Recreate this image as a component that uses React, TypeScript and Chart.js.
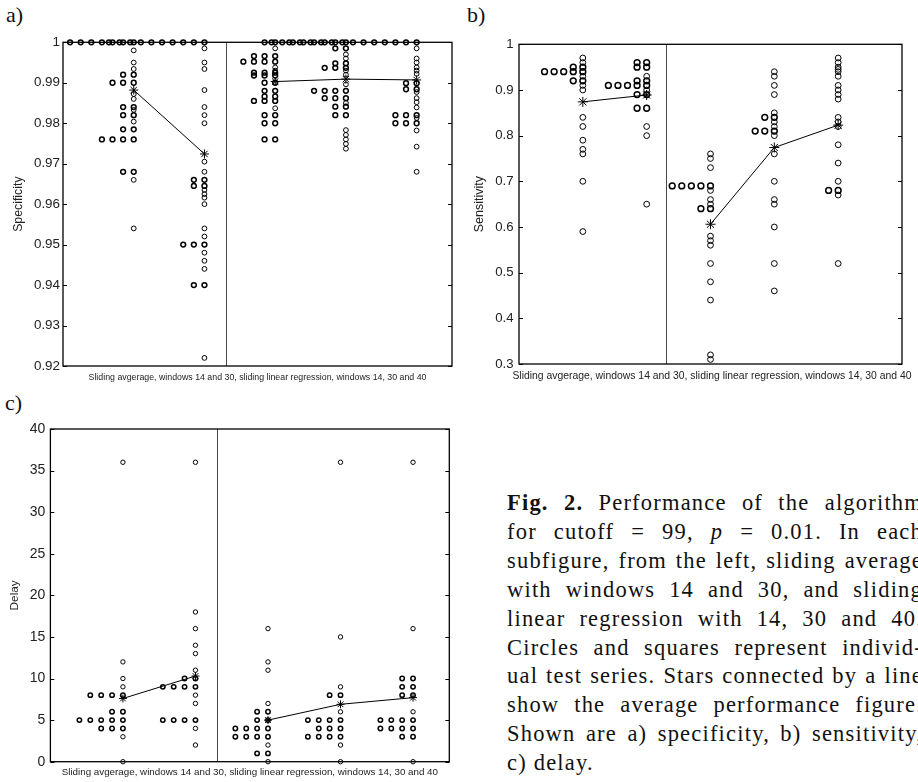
import React, { useEffect, useRef } from 'react';
import { Chart, registerables } from 'chart.js';

Chart.register(...registerables);

// ---------- categories ----------
const methods = [
  'Sliding average, window 14',
  'Sliding average, window 30',
  'Sliding linear regression, window 14',
  'Sliding linear regression, window 30',
  'Sliding linear regression, window 40',
];
const methodX = [1, 2, 3, 4, 5];
const dividerX = 2.3;
const repeatStep = 0.15;
const xCaption = 'Sliding avgerage, windows 14 and 30, sliding linear regression, windows 14, 30 and 40';

// ---------- a) specificity ----------
const specSA14 = [1, 1, 1, 1, 1, 1, 1, 0.998, 0.995, 0.9934, 0.992, 0.992, 0.99, 0.99, 0.99, 0.9872, 0.986, 0.984, 0.984, 0.9833, 0.982, 0.982, 0.9804, 0.9785, 0.9785, 0.976, 0.976, 0.976, 0.976, 0.968, 0.968, 0.966, 0.954];
const specSA30 = [1, 1, 1, 1, 1, 1, 1, 1, 1, 1, 0.9985, 0.995, 0.9934, 0.9882, 0.984, 0.982, 0.98, 0.9705, 0.968, 0.966, 0.966, 0.9645, 0.9645, 0.9635, 0.9625, 0.9616, 0.96, 0.954, 0.952, 0.95, 0.95, 0.95, 0.948, 0.946, 0.944, 0.94, 0.94, 0.922];
const specLR14 = [1, 1, 0.9985, 0.9966, 0.9966, 0.9966, 0.9952, 0.9952, 0.9952, 0.9952, 0.9938, 0.993, 0.9925, 0.9925, 0.9925, 0.9918, 0.9918, 0.9918, 0.99, 0.99, 0.988, 0.988, 0.9866, 0.9866, 0.9855, 0.9855, 0.9855, 0.9837, 0.982, 0.982, 0.98, 0.98, 0.976, 0.976];
const specLR30 = [1, 1, 1, 1, 1, 1, 1, 1, 0.9985, 0.9985, 0.997, 0.996, 0.9948, 0.9948, 0.9937, 0.9937, 0.9937, 0.993, 0.992, 0.9896, 0.988, 0.988, 0.988, 0.988, 0.9862, 0.9862, 0.9862, 0.985, 0.9841, 0.9841, 0.982, 0.982, 0.9783, 0.9771, 0.976, 0.9749, 0.9737];
const specLR40 = [1, 1, 1, 1, 1, 1, 1, 1, 1, 1, 1, 1, 1, 0.9985, 0.996, 0.995, 0.9938, 0.993, 0.9922, 0.9899, 0.9899, 0.9884, 0.9884, 0.9877, 0.9862, 0.9852, 0.9839, 0.982, 0.982, 0.982, 0.9813, 0.98, 0.98, 0.98, 0.9782, 0.9742, 0.968];
const specMeans = [0.9882, 0.9724, 0.9903, 0.9909, 0.9907];
const specTicks = [0.92, 0.93, 0.94, 0.95, 0.96, 0.97, 0.98, 0.99, 1];

// ---------- b) sensitivity ----------
const sensSA14 = [0.97, 0.96, 0.95, 0.95, 0.94, 0.94, 0.94, 0.94, 0.94, 0.93, 0.92, 0.92, 0.91, 0.9, 0.84, 0.82, 0.79, 0.77, 0.76, 0.7, 0.59];
const sensSA30 = [0.96, 0.96, 0.95, 0.95, 0.93, 0.92, 0.92, 0.91, 0.91, 0.91, 0.91, 0.91, 0.9, 0.89, 0.89, 0.86, 0.86, 0.82, 0.8, 0.65];
const sensLR14 = [0.76, 0.75, 0.73, 0.69, 0.69, 0.69, 0.69, 0.69, 0.68, 0.66, 0.65, 0.64, 0.64, 0.58, 0.57, 0.56, 0.52, 0.48, 0.44, 0.32, 0.31];
const sensLR30 = [0.94, 0.93, 0.91, 0.89, 0.85, 0.84, 0.84, 0.83, 0.82, 0.81, 0.81, 0.81, 0.8, 0.76, 0.7, 0.66, 0.65, 0.6, 0.52, 0.46];
const sensLR40 = [0.97, 0.96, 0.95, 0.945, 0.94, 0.93, 0.91, 0.9, 0.89, 0.88, 0.84, 0.83, 0.82, 0.78, 0.74, 0.7, 0.68, 0.68, 0.67, 0.52];
const sensMeans = [0.874, 0.889, 0.606, 0.774, 0.823];
const sensTicks = [0.3, 0.4, 0.5, 0.6, 0.7, 0.8, 0.9, 1];

// ---------- c) delay ----------
const delaySA14 = [36, 12, 10, 9, 8, 8, 8, 8, 6, 6, 5, 5, 5, 5, 5, 4, 4, 4, 3, 0];
const delaySA30 = [36, 18, 16, 14, 13, 11, 10, 10, 9, 9, 9, 9, 8, 7, 5, 5, 5, 5, 4, 2];
const delayLR14 = [16, 12, 11, 7, 6, 6, 5, 5, 4, 4, 4, 4, 3, 3, 3, 3, 2, 1, 1, 0];
const delayLR30 = [36, 15, 9, 8, 8, 6, 5, 5, 5, 5, 4, 4, 4, 3, 3, 3, 3, 2, 0];
const delayLR40 = [36, 16, 10, 10, 9, 9, 8, 8, 6, 5, 5, 5, 5, 4, 4, 4, 4, 3, 3, 0];
const delayMeans = [7.6, 10.3, 5.0, 6.9, 7.7];
const delayTicks = [0, 5, 10, 15, 20, 25, 30, 35, 40];

// ---------- helpers ----------
function buildPoints(series: number[][]) {
  const pts: any[] = [];
  series.forEach((vals, i) => {
    const counts = new Map<number, number>();
    vals.forEach((v) => counts.set(v, (counts.get(v) || 0) + 1));
    const seen = new Map<number, number>();
    vals.forEach((v) => {
      const j = seen.get(v) || 0;
      seen.set(v, j + 1);
      pts.push({ x: methodX[i] - repeatStep * j, y: v, rep: (counts.get(v) || 0) > 1 });
    });
  });
  return pts;
}

function meanPoints(means: number[], from: number, to: number) {
  const out: any[] = [];
  for (let i = from; i < to; i++) out.push({ x: methodX[i], y: means[i] });
  return out;
}

const framePlugin = {
  id: 'frame',
  beforeDatasetsDraw(chart: any, _args: any, opts: any) {
    const { ctx, chartArea: a, scales } = chart;
    const xs = scales.x;
    const ys = scales.y;
    ctx.save();
    // divider
    const dx = Math.round(xs.getPixelForValue(opts.divider)) + 0.5;
    ctx.strokeStyle = '#4a4a4a';
    ctx.lineWidth = 1;
    ctx.beginPath();
    ctx.moveTo(dx, a.top);
    ctx.lineTo(dx, a.bottom);
    ctx.stroke();
    // inward ticks
    ctx.strokeStyle = '#000';
    ctx.lineWidth = 1;
    ys.ticks.forEach((t: any) => {
      const py = Math.round(ys.getPixelForValue(t.value)) + 0.5;
      ctx.beginPath();
      ctx.moveTo(a.left, py);
      ctx.lineTo(a.left + opts.tickLen, py);
      ctx.moveTo(a.right, py);
      ctx.lineTo(a.right - opts.tickLen, py);
      ctx.stroke();
    });
    // box
    ctx.lineWidth = 1.3;
    ctx.strokeStyle = '#000';
    ctx.strokeRect(a.left, a.top, a.right - a.left, a.bottom - a.top);
    // x caption
    ctx.fillStyle = '#222';
    ctx.font = `${opts.captionSize}px "Liberation Sans", Arial, sans-serif`;
    ctx.textAlign = 'center';
    ctx.textBaseline = 'middle';
    ctx.fillText(opts.caption, (a.left + a.right) / 2 + opts.captionDx, a.bottom + opts.captionOffset);
    ctx.restore();
  },
};

const panelA = {
  canvas: { left: 0, top: 28, width: 470, height: 362 },
  area: { left: 63, top: 42.3, right: 452, bottom: 366 },
  xMax: 5.5,
  yTicks: specTicks,
  yTitle: 'Specificity',
  series: [specSA14, specSA30, specLR14, specLR30, specLR40],
  means: specMeans,
  tickSize: 13.4,
  tickPad: 3,
  titleSize: 12.3,
  titleX: 18.3,
  captionSize: 8.8,
  captionOffset: 11.5,
  captionDx: 0,
  circleR: 2.4,
  starR: 4.5,
};

const panelB = {
  canvas: { left: 460, top: 28, width: 458, height: 362 },
  area: { left: 519, top: 44.3, right: 902, bottom: 364 },
  xMax: 6,
  yTicks: sensTicks,
  yTitle: 'Sensitivity',
  series: [sensSA14, sensSA30, sensLR14, sensLR30, sensLR40],
  means: sensMeans,
  tickSize: 13.2,
  tickPad: 5.5,
  titleSize: 12.5,
  titleX: 19.3,
  captionSize: 10.4,
  captionOffset: 11.7,
  captionDx: 1.5,
  circleR: 2.9,
  starR: 5,
};

const panelC = {
  canvas: { left: 0, top: 400, width: 470, height: 382 },
  area: { left: 50.4, top: 429, right: 449.3, bottom: 761.7 },
  xMax: 5.5,
  yTicks: delayTicks,
  yTitle: 'Delay',
  series: [delaySA14, delaySA30, delayLR14, delayLR30, delayLR40],
  means: delayMeans,
  tickSize: 14,
  tickPad: 5,
  titleSize: 11.8,
  titleX: 15,
  captionSize: 9.8,
  captionOffset: 11,
  captionDx: 0,
  circleR: 2.2,
  starR: 4,
};

function ChartPanel({ cfg }: { cfg: any }) {
  const ref = useRef<HTMLCanvasElement>(null);
  useEffect(() => {
    const c = cfg.canvas;
    const a = cfg.area;
    const yTitleLH = cfg.titleSize * 1.2;
    const chart = new Chart(ref.current as HTMLCanvasElement, {
      type: 'scatter',
      data: {
        datasets: [
          {
            label: 'mean sliding average',
            data: meanPoints(cfg.means, 0, 2),
            showLine: true,
            borderColor: '#000',
            borderWidth: 1,
            pointStyle: 'star',
            pointRadius: cfg.starR,
            pointBorderColor: '#000',
            pointBorderWidth: 1,
            pointBackgroundColor: '#000',
            clip: false,
          } as any,
          {
            label: 'mean sliding linear regression',
            data: meanPoints(cfg.means, 2, 5),
            showLine: true,
            borderColor: '#000',
            borderWidth: 1,
            pointStyle: 'star',
            pointRadius: cfg.starR,
            pointBorderColor: '#000',
            pointBorderWidth: 1,
            pointBackgroundColor: '#000',
            clip: false,
          } as any,
          {
            label: 'test series',
            data: buildPoints(cfg.series),
            pointStyle: 'circle',
            pointRadius: cfg.circleR,
            pointBackgroundColor: 'rgba(0,0,0,0)',
            pointBorderColor: '#000',
            pointBorderWidth: (ctx: any) => (ctx.raw && ctx.raw.rep ? 1.5 : 1),
            clip: false,
          } as any,
        ],
      },
      options: {
        animation: false,
        responsive: false,
        devicePixelRatio: 1,
        events: [],
        layout: {
          padding: {
            left: 0,
            top: a.top - c.top,
            right: c.left + c.width - a.right,
            bottom: c.top + c.height - a.bottom,
          },
        },
        plugins: {
          legend: { display: false },
          tooltip: { enabled: false },
          frame: {
            divider: dividerX,
            tickLen: 4,
            caption: xCaption,
            captionSize: cfg.captionSize,
            captionOffset: cfg.captionOffset,
            captionDx: cfg.captionDx,
          },
        } as any,
        scales: {
          x: { type: 'linear', display: false, min: 0, max: cfg.xMax },
          y: {
            type: 'linear',
            min: cfg.yTicks[0],
            max: cfg.yTicks[cfg.yTicks.length - 1],
            afterBuildTicks: (s: any) => {
              s.ticks = cfg.yTicks.map((v: number) => ({ value: v }));
            },
            afterFit: (s: any) => {
              s.width = a.left - c.left;
            },
            ticks: {
              autoSkip: false,
              padding: cfg.tickPad,
              color: '#222',
              font: { family: '"Liberation Sans", Arial, sans-serif', size: cfg.tickSize },
              callback: (v: any) => String(v),
            },
            grid: { display: false, drawTicks: false },
            border: { display: false },
            title: {
              display: true,
              text: cfg.yTitle,
              color: '#222',
              font: { family: '"Liberation Sans", Arial, sans-serif', size: cfg.titleSize, lineHeight: 1.2 },
              padding: { top: cfg.titleX - yTitleLH / 2, bottom: 0 },
            },
          },
        },
      } as any,
      plugins: [framePlugin as any],
    });
    return () => chart.destroy();
  }, [cfg]);
  return (
    <canvas
      ref={ref}
      width={cfg.canvas.width}
      height={cfg.canvas.height}
      style={{ position: 'absolute', left: cfg.canvas.left, top: cfg.canvas.top, width: cfg.canvas.width, height: cfg.canvas.height }}
      aria-label={methods.join('; ')}
    />
  );
}

const serif = '"Liberation Serif", "Times New Roman", serif';

function PanelLabel({ text, left, top }: { text: string; left: number; top: number }) {
  return (
    <div style={{ position: 'absolute', left, top, fontFamily: serif, fontSize: 22, lineHeight: '22px', color: '#111' }}>{text}</div>
  );
}

const captionLines: React.ReactNode[] = [
  <><b>Fig. 2.</b> Performance of the algorithm</>,
  <>for cutoff = 99, <i>p</i> = 0.01. In each</>,
  <>subfigure, from the left, sliding average</>,
  <>with windows 14 and 30, and sliding</>,
  <>linear regression with 14, 30 and 40.</>,
  <>Circles and squares represent individ-</>,
  <>ual test series. Stars connected by a line</>,
  <>show the average performance figure.</>,
  <>Shown are a) specificity, b) sensitivity,</>,
  <>c) delay.</>,
];

function Caption() {
  return (
    <div
      style={{
        position: 'absolute',
        left: 507,
        top: 489,
        width: 416,
        fontFamily: serif,
        fontSize: 22.5,
        lineHeight: '28.9px',
        letterSpacing: 1.2,
        color: '#111',
      }}
    >
      {captionLines.map((l, i) => {
        const last = i === captionLines.length - 1;
        return (
          <div key={i} style={{ textAlign: last ? 'left' : 'justify', textAlignLast: last ? 'left' : 'justify', whiteSpace: 'nowrap' } as any}>
            {l}
          </div>
        );
      })}
    </div>
  );
}

export default function App() {
  return (
    <div style={{ position: 'fixed', left: 0, top: 0, width: 918, height: 782, overflow: 'hidden', background: '#fff' }}>
      <PanelLabel text="a)" left={6} top={4} />
      <PanelLabel text="b)" left={467} top={4} />
      <PanelLabel text="c)" left={5} top={392} />
      <ChartPanel cfg={panelA} />
      <ChartPanel cfg={panelB} />
      <ChartPanel cfg={panelC} />
      <Caption />
    </div>
  );
}
